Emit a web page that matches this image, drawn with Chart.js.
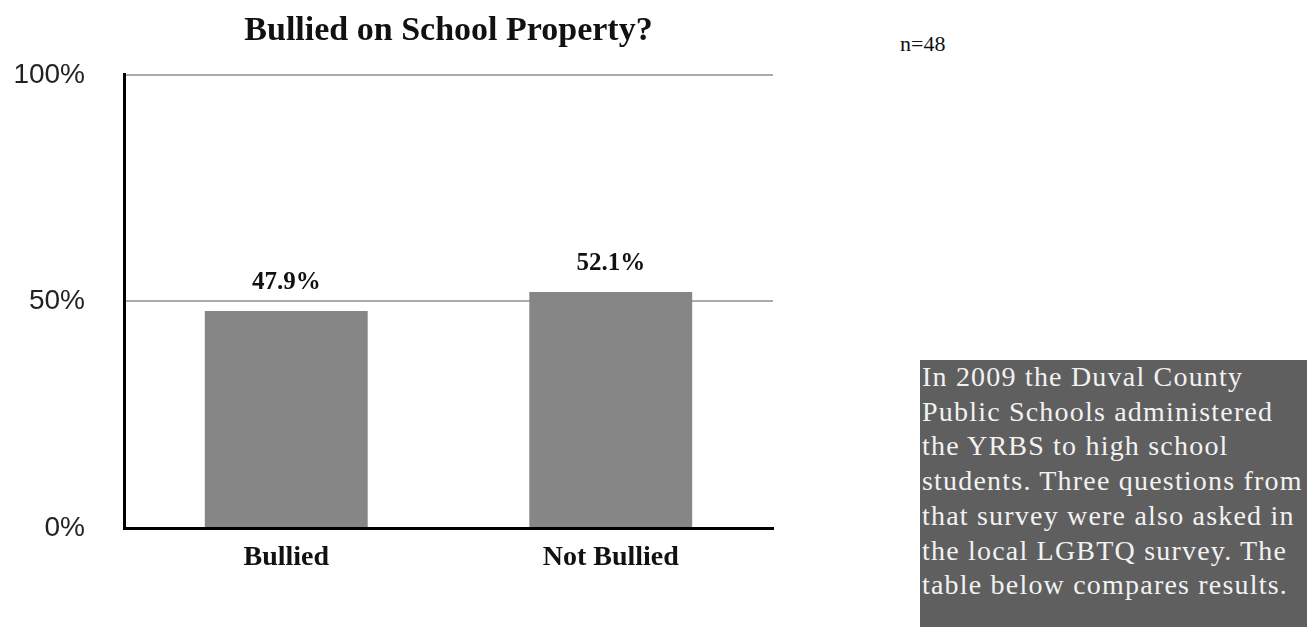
<!DOCTYPE html>
<html>
<head>
<meta charset="utf-8">
<script src="https://cdn.jsdelivr.net/npm/chart.js@4/dist/chart.umd.min.js"></script>
<style>
  body { margin: 0; background: #fff; width: 1314px; height: 627px; overflow: hidden; position: relative; }
  #wrap { position: absolute; left: 0; top: 0; width: 880px; height: 627px; }
  #n { position: absolute; left: 900px; top: 33px; font: 22px "Liberation Serif", serif; line-height: 22px; color: #111; }
  #note { position: absolute; left: 920px; top: 360px; width: 387px; height: 267px; background: #5f5f5f;
    color: #f2f2f2; font: 28px "Liberation Serif", serif; line-height: 34.7px; letter-spacing: 1.2px;
    padding-left: 2px; box-sizing: border-box; white-space: nowrap; overflow: hidden; }
</style>
</head>
<body>
<div id="wrap"><canvas id="chart"></canvas></div>
<div id="n">n=48</div>
<div id="note">In 2009 the Duval County<br>Public Schools administered<br>the YRBS to high school<br>students. Three questions from<br>that survey were also asked in<br>the local LGBTQ survey. The<br>table below compares results.</div>
<script>
var categories = ['Bullied', 'Not Bullied'];
var percents = [47.9, 52.1];
var yTicks = [0, 50, 100];

var valueLabels = {
  id: 'valueLabels',
  afterDatasetsDraw: function(chart) {
    var ctx = chart.ctx;
    var meta = chart.getDatasetMeta(0);
    ctx.save();
    ctx.font = 'bold 25px "Liberation Serif", serif';
    ctx.fillStyle = '#111';
    ctx.textAlign = 'center';
    ctx.textBaseline = 'middle';
    meta.data.forEach(function(bar, i) {
      ctx.fillText(percents[i].toFixed(1) + '%', bar.x, bar.y - 28);
    });
    ctx.restore();
  }
};

new Chart(document.getElementById('chart'), {
  type: 'bar',
  data: {
    labels: categories,
    datasets: [{
      data: percents,
      backgroundColor: '#858685',
      barPercentage: 0.502,
      categoryPercentage: 1
    }]
  },
  options: {
    responsive: true,
    maintainAspectRatio: false,
    animation: false,
    layout: { padding: { left: 0, right: 107, top: 0, bottom: 0 } },
    plugins: {
      legend: { display: false },
      tooltip: { enabled: false },
      title: {
        display: true,
        text: 'Bullied on School Property?',
        fullSize: false,
        color: '#111',
        font: { family: '"Liberation Serif", serif', size: 34, weight: 'bold' },
        padding: { top: 11, bottom: 23 }
      }
    },
    scales: {
      x: {
        grid: { display: false, drawTicks: false },
        border: { color: '#000', width: 3 },
        ticks: { color: '#111', padding: 13, font: { family: '"Liberation Serif", serif', size: 28, weight: 'bold' } },
        afterFit: function(scale) { scale.height = 99; }
      },
      y: {
        min: 0,
        max: 100,
        afterBuildTicks: function(scale) { scale.ticks = yTicks.map(function(v) { return { value: v }; }); },
        grid: {
          drawTicks: false,
          lineWidth: 2,
          color: function(c) { return c.tick && c.tick.value === 0 ? 'rgba(0,0,0,0)' : '#aaaaaa'; }
        },
        border: { color: '#000', width: 3 },
        ticks: {
          color: '#222',
          padding: 39,
          font: { family: '"Liberation Sans", sans-serif', size: 28 },
          callback: function(v) { return v + '%'; }
        },
        afterFit: function(scale) { scale.width = 124; }
      }
    }
  },
  plugins: [valueLabels]
});
</script>
</body>
</html>
